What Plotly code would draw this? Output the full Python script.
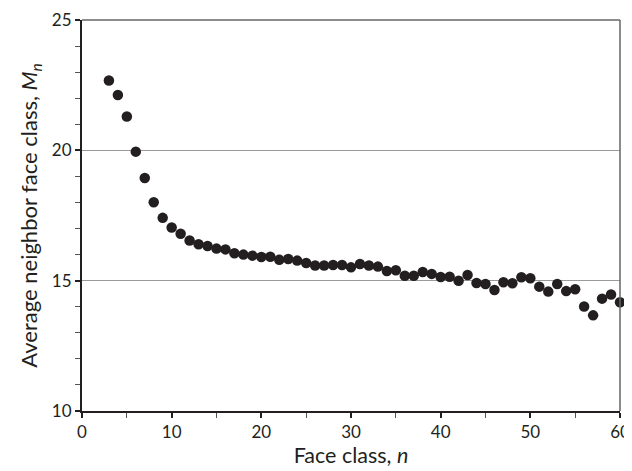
import plotly.graph_objects as go

face_class = list(range(3, 61))
avg_neighbor = [
    22.68, 22.12, 21.30, 19.95, 18.94, 18.01, 17.41, 17.04, 16.80, 16.54,
    16.40, 16.33, 16.23, 16.20, 16.05, 16.00, 15.96, 15.91, 15.92, 15.80,
    15.83, 15.77, 15.68, 15.58, 15.58, 15.60, 15.60, 15.51, 15.64, 15.58,
    15.54, 15.37, 15.40, 15.19, 15.19, 15.33, 15.26, 15.14, 15.15, 15.00,
    15.22, 14.91, 14.87, 14.64, 14.94, 14.90, 15.13, 15.09, 14.77, 14.58,
    14.87, 14.60, 14.67, 14.01, 13.67, 14.31, 14.47, 14.17,
]

font_family = "Lato, Open Sans, sans-serif"
text_color = "#231f20"

fig = go.Figure()
fig.add_trace(go.Scatter(
    x=face_class, y=avg_neighbor, mode="markers",
    marker=dict(size=10.5, color="#231f20"),
    showlegend=False, cliponaxis=False,
))

# The page body has an 8px default margin, so the figure is offset by 8px;
# margins are set so the plot area lands where the reference's does.
fig.update_layout(
    width=640, height=463,
    margin=dict(l=74, r=28, t=12, b=60),
    plot_bgcolor="white", paper_bgcolor="white",
    font=dict(family=font_family, color=text_color, size=17),
    xaxis=dict(
        range=[0, 60], dtick=10, tick0=0, automargin=False,
        showline=True, linecolor="#231f20", linewidth=2,
        ticks="outside", ticklen=5, tickwidth=1.5, tickcolor="#231f20",
        minor=dict(dtick=5, ticks="outside", ticklen=5, tickwidth=1, tickcolor="#555"),
        showgrid=False, zeroline=False,
        title=dict(text="Face class, <i>n</i>", font=dict(size=21.5), standoff=6),
        tickfont=dict(size=17),
    ),
    yaxis=dict(
        range=[10, 25], dtick=5, tick0=10, automargin=False,
        showline=True, linecolor="#231f20", linewidth=2,
        ticks="outside", ticklen=5, tickwidth=1.5, tickcolor="#231f20",
        minor=dict(dtick=1, ticks="outside", ticklen=5, tickwidth=1, tickcolor="#555", showgrid=False),
        showgrid=True, gridcolor="#9a9a9a", gridwidth=1, zeroline=False,
        title=dict(text="Average neighbor face class, <i>M</i><sub><i>n</i></sub>", font=dict(size=22), standoff=8),
        tickfont=dict(size=17),
    ),
    shapes=[
        dict(type="line", xref="paper", yref="paper", x0=0, x1=1, y0=1, y1=1,
             line=dict(color="#666666", width=1.5)),
        dict(type="line", xref="paper", yref="paper", x0=1, x1=1, y0=0, y1=1,
             line=dict(color="#666666", width=1.5)),
    ],
)

fig.write_html("out.html")
